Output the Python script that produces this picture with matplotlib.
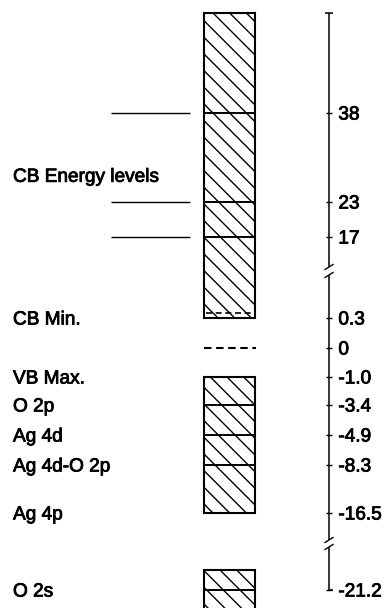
import numpy as np
import matplotlib
matplotlib.use("Agg")
import matplotlib.pyplot as plt
import matplotlib.patheffects as pe
from matplotlib.patches import Rectangle
from matplotlib.transforms import offset_copy

# ---- energy levels (eV) ----
cb_levels = [38, 23, 17]
cb_top = 55.0
cb_min = 0.3
zero_level = 0.0
vb_max = -1.0
vb_levels = [-3.4, -4.9, -8.3]
vb_bottom = -16.5
o2s_top = -20.0
o2s_level = -21.2
o2s_bottom = -23.0

tick_values = [38, 23, 17, 0.3, 0, -1.0, -3.4, -4.9, -8.3, -16.5, -21.2]
tick_labels = ["38", "23", "17", "0.3", "0", "-1.0", "-3.4", "-4.9", "-8.3", "-16.5", "-21.2"]

state_names = ["CB Min.", "VB Max.", "O 2p", "Ag 4d", "Ag 4d-O 2p", "Ag 4p", "O 2s"]
state_energies = [0.3, -1.0, -3.4, -4.9, -8.3, -16.5, -21.2]
cb_title = "CB Energy levels"
cb_title_energy = 27.5

# ---- schematic (piecewise) energy scale: energy -> pixel row from the top ----
W, H = 386, 608
anchor_E = np.array([-30, -21.2, -16.5, -8.3, -4.9, -3.4, -1.0, 0.0, 0.3, 17, 23, 38, 55, 70])
anchor_row = np.array([734, 590, 513, 465, 435, 405, 377, 348, 318, 237, 202, 113, 13, -75])


def forward(e):
    return H - np.interp(e, anchor_E, anchor_row)


def inverse(h):
    return np.interp(H - np.asarray(h), anchor_row[::-1], anchor_E[::-1])


def e_at_row(row):
    return float(inverse(H - row))


plt.rcParams["font.family"] = ["Liberation Sans", "DejaVu Sans"]
plt.rcParams["hatch.linewidth"] = 1.0

fig = plt.figure(figsize=(W / 100, H / 100), dpi=100)
ax = fig.add_axes([0, 0, 1, 1])
ax.set_xlim(0, W)
ax.set_yscale("function", functions=(forward, inverse))
ax.set_ylim(e_at_row(H), e_at_row(0))

box_x, box_w = 203.5, 51
edge_lw = 1.5
fs = 13.7
heavy = [pe.withStroke(linewidth=0.6, foreground="black")]

# conduction band block
ax.add_patch(Rectangle((box_x, cb_min), box_w, cb_top - cb_min, fill=False,
                       edgecolor="black", lw=edge_lw, hatch="\\\\"))
ax.hlines(cb_levels, box_x, box_x + box_w, colors="black", lw=1.4)
ax.hlines(cb_levels, 111, 190, colors="black", lw=1.0)
cb_min_tr = offset_copy(ax.transData, fig=fig, y=5, units="dots")
ax.hlines(cb_min, box_x + 2, box_x + box_w - 1, colors="black", lw=1.2,
          linestyles=(0, (3.6, 2.2)), transform=cb_min_tr)

# zero reference
ax.hlines(zero_level, box_x, box_x + box_w + 1, colors="black", lw=1.5,
          linestyles=(0, (3.6, 2.2)))

# valence band block
ax.add_patch(Rectangle((box_x, vb_bottom), box_w, vb_max - vb_bottom, fill=False,
                       edgecolor="black", lw=edge_lw, hatch="\\\\"))
ax.hlines(vb_levels, box_x, box_x + box_w, colors="black", lw=1.4)

# O 2s block
ax.add_patch(Rectangle((box_x, o2s_bottom), box_w, o2s_top - o2s_bottom, fill=False,
                       edgecolor="black", lw=edge_lw, hatch="\\\\"))
ax.hlines(o2s_level, box_x, box_x + box_w, colors="black", lw=1.4)

# labels on the left
ax.text(13, cb_title_energy, cb_title, fontsize=fs, ha="left", va="center_baseline",
        path_effects=heavy)
for name, e in zip(state_names, state_energies):
    ax.text(13, e, name, fontsize=fs, ha="left", va="center_baseline", path_effects=heavy)

# broken energy axis on the right
axis_x = 329
axis_lw = 1.1
breaks = [(267, 275), (540, 547)]
segments = [(cb_top, e_at_row(breaks[0][0])),
            (e_at_row(breaks[0][1]), e_at_row(breaks[1][0])),
            (e_at_row(breaks[1][1]), o2s_level)]
for top, bottom in segments:
    ax.vlines(axis_x, bottom, top, colors="black", lw=axis_lw)
ax.hlines(cb_top, axis_x - 4, axis_x + 4, colors="black", lw=axis_lw)
ax.hlines(o2s_level, axis_x, axis_x + 4, colors="black", lw=axis_lw)
for pair in breaks:
    for row in pair:
        ax.plot([axis_x - 4, axis_x + 4], [e_at_row(row + 2.5), e_at_row(row - 2.5)],
                color="black", lw=1.0)

for s in ax.spines.values():
    s.set_visible(False)
ax.spines["right"].set_position(("data", axis_x))
ax.yaxis.tick_right()
ax.set_yticks(tick_values, tick_labels)
ax.yaxis.set_minor_locator(matplotlib.ticker.NullLocator())
ax.tick_params(axis="y", which="major", direction="inout", length=4.5, width=1.0,
               pad=4.5, labelsize=fs, left=False, right=True)
for lbl in ax.get_yticklabels():
    lbl.set_path_effects(heavy)
ax.xaxis.set_visible(False)

fig.savefig("out.png", dpi=100, facecolor="white")
